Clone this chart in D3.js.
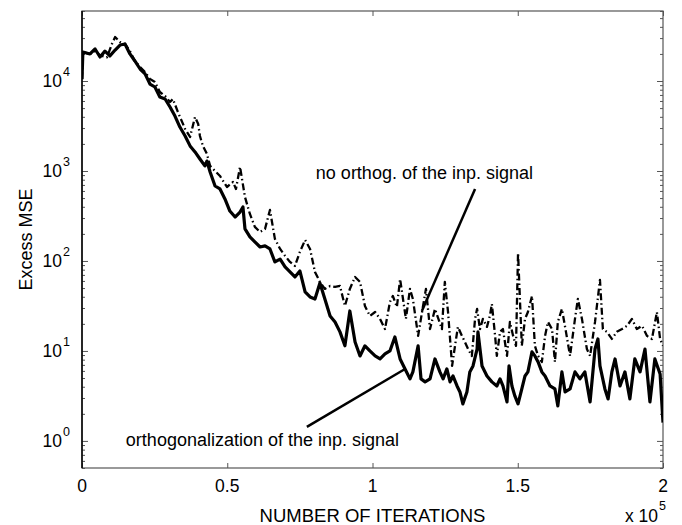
<!DOCTYPE html>
<html>
<head>
<meta charset="utf-8">
<script src="https://cdn.jsdelivr.net/npm/d3@7"></script>
<style>
  body { margin: 0; background: #fff; }
  text { font-family: "Liberation Sans", Arial, sans-serif; fill: #000; }
</style>
</head>
<body>
<div class="chart"></div>
<script>
// iterations / excess MSE, orthogonalization of the input signal (solid)
var orthIter = [0, 300, 2750, 4500, 6200, 7900, 9600, 11400, 13100, 14800, 16500, 18200, 20000, 21700, 23400, 25100, 26800, 28600, 30300, 32000, 33700, 35500, 37200, 38900, 40600, 42300, 43000, 44100, 45800, 47500, 49200, 50900, 52700, 54400, 55400, 56100, 57800, 59500, 61300, 63000, 64700, 66400, 68200, 69900, 71600, 73300, 75000, 76800, 78500, 80200, 81900, 83600, 85400, 87100, 88800, 90500, 92200, 94000, 95700, 97400, 99100, 100900, 102600, 104300, 106000, 107700, 109500, 111200, 112900, 113900, 115700, 116700, 118100, 119800, 121500,
    123200, 124300, 125600, 126700, 127700, 129100, 130100, 131100, 132500, 133500, 134600, 136000, 136300, 137700, 139400, 141100, 142800, 143900, 144900, 146300, 147000, 148000, 149000, 150100, 151400, 152500, 153500, 154900, 155900, 157000, 158300, 159400, 161100, 162800, 163800,
    165200, 166300, 168000, 169700, 171400, 173100, 174900, 176600, 177600, 178300, 180000, 181100, 182400, 183500, 185200, 186900, 188600, 190300, 192100, 193800, 195500, 197200, 199000, 200000];
var orthMse = [10500, 21000, 20000, 22700, 18500, 21500, 19000, 22100, 25100, 25800, 20000, 16700, 13600, 12000, 9260, 8580, 6640, 6310, 5140, 4080, 3080, 2450, 1900, 1630, 1360, 1140, 1290, 975, 681, 631, 489, 359, 308, 350, 398, 227, 185, 163, 143, 147, 136, 97.5, 105, 85.8, 75.5, 66.4, 77.4, 45.3, 39.8, 37.8, 57, 37.8, 24.5, 21, 16.3, 11.4, 27.8, 12.6, 8.8, 11.4, 10, 8.8, 8.15, 9.26, 10, 14.3, 8.15, 6.31, 4.89, 5.85, 11.4, 4.89, 4.53, 4.89, 8.15,
    5.85, 4.89, 6.31, 4.53, 5.27, 4.08, 3.5, 2.58, 3.5, 5.85, 6.81, 10.5, 16.3, 6.81, 5.27, 4.53, 4.08, 4.89, 4.08, 2.71, 6.81, 4.08, 3.16, 2.58, 3.78, 5.27, 5.85, 9.75, 8.8, 7.55, 5.85, 5.27, 4.08, 3.78, 2.45,
    5.85, 3.5, 3.78, 5.85, 4.89, 5.85, 2.71, 10.5, 13.6, 6.81, 3.78, 2.93, 5.85, 8.15, 4.08, 5.85, 2.93, 8.15, 5.85, 10.5, 2.71, 8.15, 5.55, 1.6];

// no orthogonalization of the input signal (dash-dot)
var noIter = [0, 300, 2750, 4500, 6200, 8600, 10300, 11400, 13100, 14800, 16500, 18200, 20000, 21700, 23400, 25100, 26800, 28600, 30300, 31300, 33000, 35500, 37200, 38900, 40000, 40600, 41600, 43000, 44100, 45800, 47500, 49900, 52000, 53000, 54400, 56100, 57800, 59500, 61300, 63000, 64700, 66400, 68200, 69900, 71600, 73300, 75000, 76800, 78500, 80200, 81900, 83600, 85400, 87100, 88800, 90500, 92200, 94000, 95700, 97400, 99100, 100900, 102600, 104300, 106000, 107000, 108400, 109500, 110500, 111500, 112900, 113900, 115700, 117400, 118400, 119800, 121500,
    123900, 124900, 126000, 127400, 128400, 129400, 130800, 131800, 132900, 134200, 135300, 136000, 137000, 138000, 139400, 140400, 141100, 142200, 142800, 143900, 144900, 146300, 147300, 148400, 149400, 150100, 151400, 152500, 153500, 154900, 155900, 157000, 158300, 159400, 160400, 161800, 162800, 163800,
    165200, 166600, 168000, 169700, 170700, 172100, 173800, 174900, 176600, 178300, 179300, 180700, 182400, 184100, 185900, 187600, 189300, 191000, 192800, 194500, 196200, 197900, 199000, 200000];
var noMse = [10500, 21000, 20000, 21500, 19300, 18300, 25800, 30800, 27100, 25800, 21500, 16700, 14300, 12600, 10500, 9750, 7550, 6810, 5850, 6310, 4530, 2930, 2390, 3980, 3330, 2450, 1900, 1550, 1140, 1000, 880, 664, 755, 631, 1110, 514, 333, 239, 210, 227, 369, 176, 136, 114, 97.5, 88, 126, 171, 136, 75.5, 58.5, 48.9, 52.7, 51.4, 52.7, 31.6, 48.9, 66.4, 58.5, 31.6, 24.5, 27.1, 22.7, 17.5, 35, 40.8, 30.8, 63.1, 37.8, 22.7, 48.9, 37.8, 14.7, 31.6, 48.9, 17.5, 29.3,
    17.5, 58.5, 27.1, 6.81, 11.4, 18.5, 14.7, 12.6, 10.5, 8.8, 22.7, 29.3, 17.5, 22.7, 18.5, 24.5, 33.3, 14.7, 8.8, 16.3, 17.5, 8.8, 21, 14.7, 11.4, 123, 11.4, 22.7, 27.1, 40.8, 11.4, 8.8, 7.55, 14.7, 21, 17.5, 7.55, 21,
    29.3, 16.3, 8.8, 22.7, 37.8, 22.7, 10.5, 8.8, 21, 61.5, 17.5, 16.3, 13.6, 16.3, 17.5, 19, 22.7, 17.5, 19, 14.7, 13.6, 27.1, 13.6, 11.4];

var xTicks = [0, 50000, 100000, 150000, 200000];
var xTickLabels = ["0", "0.5", "1", "1.5", "2"];
var yDecades = [0, 1, 2, 3, 4];

var svgWidth = 682;
var svgHeight = 525;
var margin = { top: 11, right: 19, bottom: 57, left: 82 };
var chartWidth = svgWidth - margin.left - margin.right;
var chartHeight = svgHeight - margin.top - margin.bottom;

var svg = d3.select(".chart").append("svg")
    .attr("width", svgWidth)
    .attr("height", svgHeight);

var chartGroup = svg.append("g")
    .attr("transform", `translate(${margin.left}, ${margin.top})`);

var xScale = d3.scaleLinear()
    .domain([0, 200000])
    .range([0, chartWidth]);

var yScale = d3.scaleLog()
    .domain([0.5, 60000])
    .range([chartHeight, 0]);

// minor log ticks (2..9 of each decade) inside the domain
var minorTicks = [];
for (var d = -1; d <= 4; d++) {
    for (var m = 2; m <= 9; m++) {
        var v = m * Math.pow(10, d);
        if (v >= 0.5 && v <= 60000) minorTicks.push(v);
    }
}

// axes, ticks pointing inward
var axisColor = "#555";
function styleAxis(g) {
    g.select(".domain").remove();
    g.selectAll(".tick line").attr("stroke", axisColor);
}

chartGroup.append("g")
    .attr("transform", `translate(0, ${chartHeight})`)
    .call(d3.axisBottom(xScale).tickValues(xTicks).tickSize(-5).tickFormat(""))
    .call(styleAxis);
chartGroup.append("g")
    .call(d3.axisTop(xScale).tickValues(xTicks).tickSize(-5).tickFormat(""))
    .call(styleAxis);

[0, chartWidth].forEach(function (xPos) {
    var dir = xPos === 0 ? 1 : -1;
    chartGroup.append("g")
        .attr("transform", `translate(${xPos}, 0)`)
        .call(d3.axisLeft(yScale).tickValues(yDecades.map(k => Math.pow(10, k))).tickSize(-6 * dir).tickFormat(""))
        .call(styleAxis);
    chartGroup.append("g")
        .attr("transform", `translate(${xPos}, 0)`)
        .call(d3.axisLeft(yScale).tickValues(minorTicks).tickSize(-3 * dir).tickFormat(""))
        .call(styleAxis);
});

// box
chartGroup.append("rect")
    .attr("width", chartWidth)
    .attr("height", chartHeight)
    .attr("fill", "none")
    .attr("stroke", axisColor)
    .attr("stroke-width", 1.2);
chartGroup.append("line")
    .attr("x1", 0).attr("x2", 0)
    .attr("y1", 0).attr("y2", chartHeight)
    .attr("stroke", "#000")
    .attr("stroke-width", 1.5);

// tick labels
chartGroup.selectAll(".xlab")
    .data(xTicks)
    .enter()
    .append("text")
    .attr("x", d => xScale(d))
    .attr("y", chartHeight + 24)
    .attr("text-anchor", "middle")
    .style("font-size", "17.5px")
    .text((d, i) => xTickLabels[i]);

chartGroup.selectAll(".ylab")
    .data(yDecades)
    .enter()
    .append("text")
    .attr("x", -20)
    .attr("y", d => yScale(Math.pow(10, d)) + 6)
    .attr("text-anchor", "end")
    .style("font-size", "17.5px")
    .text("10");
chartGroup.selectAll(".ysup")
    .data(yDecades)
    .enter()
    .append("text")
    .attr("x", -19)
    .attr("y", d => yScale(Math.pow(10, d)) - 5)
    .style("font-size", "12.5px")
    .text(d => d);

// x 10^5
chartGroup.append("text")
    .attr("x", chartWidth - 5)
    .attr("y", chartHeight + 54)
    .attr("text-anchor", "end")
    .style("font-size", "17.5px")
    .text("x 10");
chartGroup.append("text")
    .attr("x", chartWidth - 4)
    .attr("y", chartHeight + 42)
    .style("font-size", "12.5px")
    .text("5");

// axis titles
chartGroup.append("text")
    .attr("x", chartWidth / 2)
    .attr("y", chartHeight + 54)
    .attr("text-anchor", "middle")
    .style("font-size", "18.5px")
    .text("NUMBER OF ITERATIONS");

chartGroup.append("text")
    .attr("transform", "rotate(-90)")
    .attr("x", -chartHeight / 2)
    .attr("y", -50)
    .attr("text-anchor", "middle")
    .style("font-size", "18px")
    .text("Excess MSE");

// curves
svg.append("clipPath").attr("id", "clip")
    .append("rect").attr("width", chartWidth).attr("height", chartHeight);

var line = d3.line()
    .x(d => xScale(d[0]))
    .y(d => yScale(d[1]));

var noData = d3.zip(noIter, noMse);
var orthData = d3.zip(orthIter, orthMse);

chartGroup.append("path")
    .datum(noData)
    .attr("clip-path", "url(#clip)")
    .attr("fill", "none")
    .attr("stroke", "#000")
    .attr("stroke-width", 2.3)
    .attr("stroke-dasharray", "7,3,1.5,3")
    .attr("stroke-linejoin", "round")
    .attr("d", line);

chartGroup.append("path")
    .datum(orthData)
    .attr("clip-path", "url(#clip)")
    .attr("fill", "none")
    .attr("stroke", "#000")
    .attr("stroke-width", 3.2)
    .attr("stroke-linejoin", "round")
    .attr("d", line);

// annotations
var notes = [
    { text: "no orthog. of the inp. signal", tx: 80500, ty: 815, from: [135300, 630], to: [117000, 27.8] },
    { text: "orthogonalization of the inp. signal", tx: 15100, ty: 0.88, from: [77400, 1.43], to: [111200, 6.3] }
];

notes.forEach(function (n) {
    chartGroup.append("line")
        .attr("x1", xScale(n.from[0])).attr("y1", yScale(n.from[1]))
        .attr("x2", xScale(n.to[0])).attr("y2", yScale(n.to[1]))
        .attr("stroke", "#000")
        .attr("stroke-width", 2.5);
    chartGroup.append("text")
        .attr("x", xScale(n.tx))
        .attr("y", yScale(n.ty))
        .style("font-size", "18px")
        .text(n.text);
});
</script>
</body>
</html>
